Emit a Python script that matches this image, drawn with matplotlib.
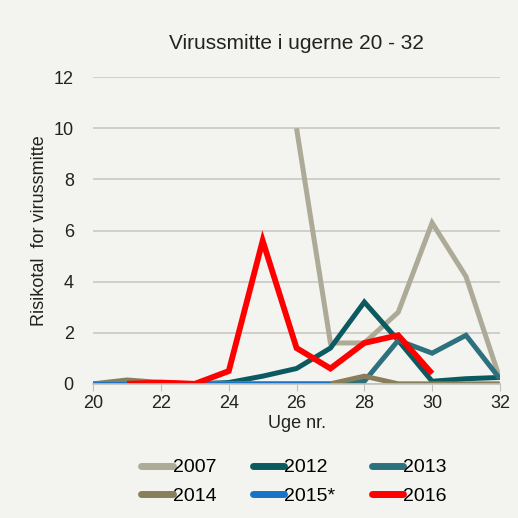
import numpy as np
import matplotlib.pyplot as plt

plt.rcParams['font.family'] = ['Liberation Sans', 'DejaVu Sans']

# Data, None = no value
weeks = list(range(20, 33))
y2007 = [None, None, None, None, None, None, 10.0, 1.6, 1.6, 2.8, 6.3, 4.2, 0.2]
y2012 = [0, 0, 0, 0, 0.05, 0.3, 0.6, 1.4, 3.2, 1.7, 0.1, 0.2, 0.25]
y2013 = [0, 0, 0, 0, 0, 0, 0, 0, 0.1, 1.7, 1.2, 1.9, 0.2]
y2014 = [0, 0.15, 0.05, 0, 0, 0, 0, 0, 0.3, 0, 0, 0, 0]
y2015 = [0, 0, 0, 0, 0, 0, 0, 0, None, None, None, None, None]
y2016 = [None, 0, 0.05, 0, 0.5, 5.6, 1.4, 0.6, 1.6, 1.9, 0.4, None, None]

series = [
    ("2007", y2007, "#adab98", 3.6),
    ("2012", y2012, "#0a5a60", 3.6),
    ("2013", y2013, "#2d717e", 3.6),
    ("2014", y2014, "#887f5a", 3.6),
    ("2015*", y2015, "#1872c6", 3.6),
    ("2016", y2016, "#ff0000", 4.2),
]

bg = "#f3f3ef"
fig = plt.figure(figsize=(5.18, 5.18), dpi=100, facecolor=bg)
ax = fig.add_axes([0.18, 0.259, 0.785, 0.592], facecolor=bg)

lines = {}
for name, vals, col, lw in series:
    v = np.array([np.nan if x is None else x for x in vals], dtype=float)
    lines[name], = ax.plot(weeks, v, color=col, lw=lw, label=name,
                           solid_joinstyle='miter', solid_capstyle='butt')

ax.set_xlim(20, 32)
ax.set_ylim(0, 12)
ax.set_xticks(range(20, 33, 2))
ax.set_yticks(range(0, 13, 2))
ax.yaxis.grid(True, color="#c8c8c4", lw=1.2)
ax.set_axisbelow(True)
for s in ['left', 'right', 'top']:
    ax.spines[s].set_visible(False)
ax.spines['bottom'].set_color("#c0c0bc")
ax.spines['bottom'].set_linewidth(1.2)
ax.tick_params(axis='y', length=0, labelsize=13, colors="#222222", pad=14)
ax.tick_params(axis='x', length=5, color="#c0c0bc", labelsize=13,
               labelcolor="#222222", pad=3)

ax.set_title("Virussmitte i ugerne 20 - 32", fontsize=15, color="#222222", pad=20)
ax.set_xlabel("Uge nr.", fontsize=13, color="#222222", labelpad=2)
ax.set_ylabel("Risikotal  for virussmitte", fontsize=13, color="#222222", labelpad=4)

# legend filled column-wise, so order to give rows 2007 2012 2013 / 2014 2015* 2016
order = ["2007", "2014", "2012", "2015*", "2013", "2016"]
leg = fig.legend([lines[n] for n in order], order, loc='upper center',
                 bbox_to_anchor=(0.568, 0.148), ncol=3, frameon=False,
                 fontsize=14, handlelength=1.6, handletextpad=0.0,
                 columnspacing=1.9, labelspacing=0.55)
for h in leg.get_lines():
    h.set_linewidth(5)
    h.set_solid_capstyle('round')

fig.savefig("out.png", dpi=100, facecolor=bg)
